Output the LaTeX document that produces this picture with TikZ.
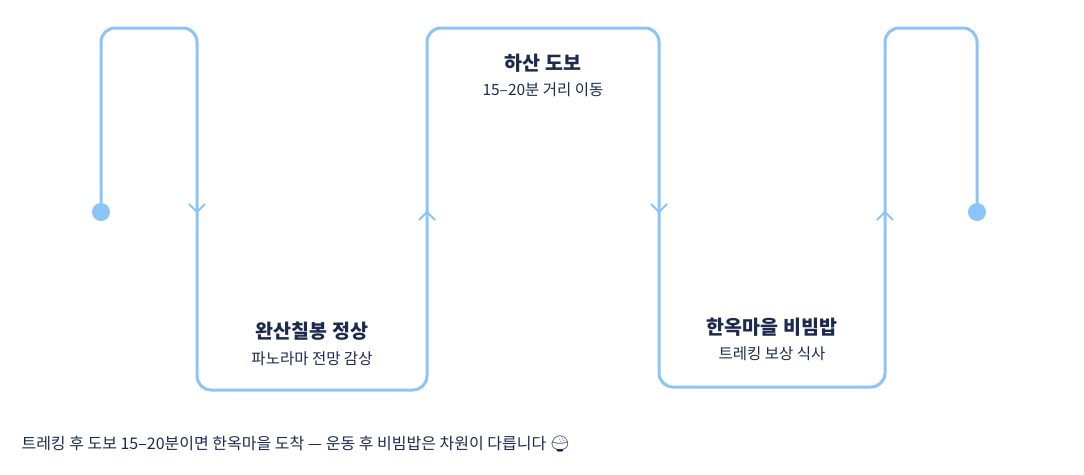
\documentclass[tikz,border=0pt]{standalone}
\usepackage{fontspec}
\newfontfamily\kr{Noto Sans CJK KR}
\newfontfamily\emo{Noto Emoji}
\definecolor{lb}{HTML}{8AC4F8}
\definecolor{ink}{HTML}{1B2A4E}
\begin{document}
\begin{tikzpicture}[x=1pt,y=-1pt,
  trail/.style={draw=lb,line width=3pt,rounded corners=14pt},
  chev/.style={draw=lb,line width=2pt},
  ttl/.style={text=ink,font=\kr\bfseries\fontsize{19.5}{22}\selectfont,anchor=center},
  sub/.style={text=ink,font=\kr\fontsize{15.5}{18}\selectfont,anchor=center}]
\useasboundingbox (0,0) rectangle (1084,474);
\coordinate (s) at (101,212);
\coordinate (e) at (977,212);
\draw[trail] (s) -- (101,28) -- (197,28) -- (197,390) -- (427,390) -- (427,28) -- (659,28) -- (659,387) -- (885,387) -- (885,28) -- (977,28) -- (e);
\fill[lb] (s) circle (9);
\fill[lb] (e) circle (9);
\foreach \x/\d in {197/1,427/-1,659/1,885/-1}{
  \draw[chev] (\x-8,212-8*\d) -- (\x,212) -- (\x+8,212-8*\d);
}
\node[ttl] (t1) at (312,331) {완산칠봉 정상};
\node[sub] (s1) at (312,359) {파노라마 전망 감상};
\node[ttl] (t2) at (543,63) {하산 도보};
\node[sub] (s2) at (543,90) {15–20분 거리 이동};
\node[ttl] (t3) at (772,327) {한옥마을 비빔밥};
\node[sub] (s3) at (772,354) {트레킹 보상 식사};
\node[sub,anchor=west,font=\kr\fontsize{16}{19}\selectfont] (cap) at (18,444) {트레킹 후 도보 15–20분이면 한옥마을 도착 — 운동 후 비빔밥은 차원이 다릅니다 {\emo 🍚}};
\end{tikzpicture}
\end{document}
